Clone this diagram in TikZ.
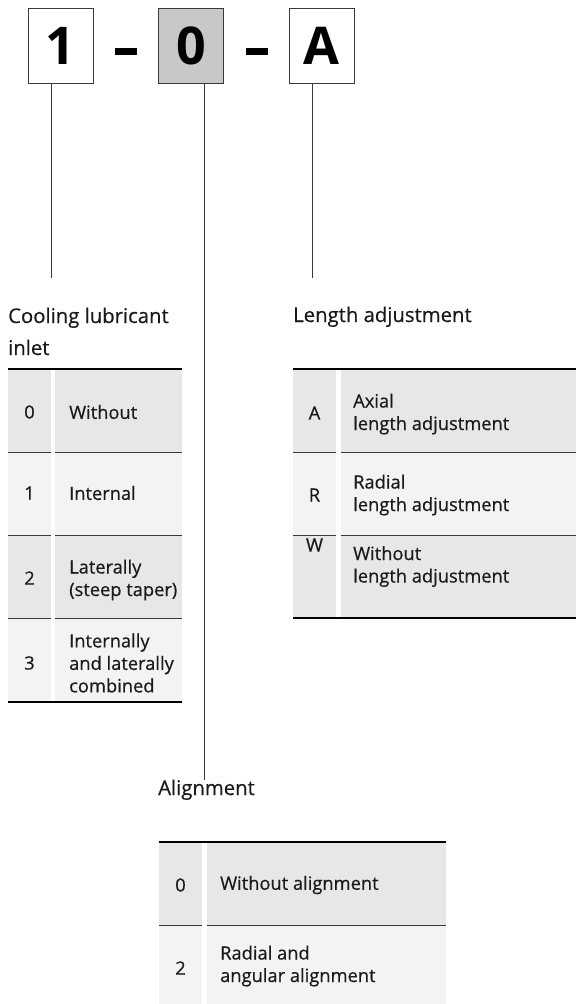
\documentclass[tikz,border=0pt]{standalone}
\usepackage{fontspec}
\setmainfont{Open Sans}[FakeBold=0.5]
\newfontfamily\digitfont{Open Sans}
\definecolor{ink}{HTML}{1A1A1A}
\definecolor{rowdark}{HTML}{E7E7E7}
\definecolor{rowlight}{HTML}{F3F3F3}
\definecolor{boxgray}{HTML}{C8C8C8}
\definecolor{linegray}{HTML}{3A3A3A}
\begin{document}
\begin{tikzpicture}[x=1pt,y=-1pt,
  codebox/.style={draw=linegray,line width=1pt,minimum width=65pt,minimum height=75pt,inner sep=0pt,font=\digitfont\bfseries\fontsize{52}{52}\selectfont,text=black},
  dashbar/.style={fill=black,draw=none,minimum width=22pt,minimum height=6.5pt,inner sep=0pt},
  leader/.style={draw=linegray,line width=1pt},
  heading/.style={anchor=base west,inner sep=0pt,text=ink,font=\fontsize{20.3}{32}\selectfont,align=left},
  code/.style={inner sep=0pt,text=ink,font=\fontsize{18.3}{22}\selectfont},
  desc/.style={anchor=west,inner sep=0pt,text=ink,font=\fontsize{18.3}{22.5}\selectfont,align=left},
  toprule/.style={line width=2.5pt,black},
  sep/.style={line width=1pt,linegray}]
\useasboundingbox (0,0) rectangle (576,1004);

% code boxes
\node[codebox] (b1) at (60.5,45.5) {1};
\node[dashbar] (d1) at (126,51.7) {};
\node[codebox,fill=boxgray] (b2) at (191,45.5) {0};
\node[dashbar] (d2) at (257,51.7) {};
\node[codebox] (b3) at (321.5,45.5) {A};

\coordinate (e1) at (51,278);
\coordinate (e2) at (204,780);
\coordinate (e3) at (312,278);
\draw[leader] (b1.south -| e1) -- (e1);
\draw[leader] (b2.south -| e2) -- (e2);
\draw[leader] (b3.south -| e3) -- (e3);

% ---------- left table ----------
\node[heading] (h1) at (8,355) {Cooling lubricant\\inlet};
\fill[rowdark] (8,369) rectangle (182,452);
\fill[rowlight] (8,452) rectangle (182,535);
\fill[rowdark] (8,535) rectangle (182,618);
\fill[rowlight] (8,618) rectangle (182,702);
\draw[sep] (8,452) -- (182,452);
\draw[sep] (8,535) -- (182,535);
\draw[sep] (8,618) -- (182,618);
\fill[white] (51,369) rectangle (55,702);
\draw[toprule] (8,369) -- (182,369);
\draw[toprule] (8,702) -- (182,702);
\node[code] (l0) at (29.5,412) {0};
\node[desc] (t0) at (69,412) {Without};
\node[code] (l1) at (29.5,493) {1};
\node[desc] (t1) at (69,493) {Internal};
\node[code] (l2) at (29.5,578) {2};
\node[desc] (t2) at (69,580) {Laterally\\(steep taper)};
\node[code] (l3) at (29.5,663) {3};
\node[desc] (t3) at (69,663) {Internally\\and laterally\\combined};

% ---------- right table ----------
\node[heading] (h2) at (293,322) {Length adjustment};
\fill[rowdark] (293,369) rectangle (576,452);
\fill[rowlight] (293,452) rectangle (576,535);
\fill[rowdark] (293,535) rectangle (576,618);
\draw[sep] (293,452) -- (576,452);
\draw[sep] (293,535) -- (576,535);
\fill[white] (336,369) rectangle (341,618);
\draw[toprule] (293,369) -- (576,369);
\draw[toprule] (293,618) -- (576,618);
\node[code] (rA) at (314.5,413) {A};
\node[desc] (tA) at (353,414) {Axial\\length adjustment};
\node[code] (rR) at (314.5,495) {R};
\node[desc] (tR) at (353,495) {Radial\\length adjustment};
\node[code] (rW) at (314.5,545) {W};
\node[desc] (tW) at (353,566.5) {Without\\length adjustment};

% ---------- bottom table ----------
\node[heading] (h3) at (158,795) {Alignment};
\fill[rowdark] (159,842) rectangle (446,925);
\fill[rowlight] (159,925) rectangle (446,1004);
\draw[sep] (159,925) -- (446,925);
\fill[white] (202,842) rectangle (207,1004);
\draw[toprule] (159,842) -- (446,842);
\node[code] (a0) at (180.5,885) {0};
\node[desc] (s0) at (220,885) {Without alignment};
\node[code] (a2) at (180.5,968) {2};
\node[desc] (s2) at (220,966) {Radial and\\angular alignment};
\end{tikzpicture}
\end{document}
